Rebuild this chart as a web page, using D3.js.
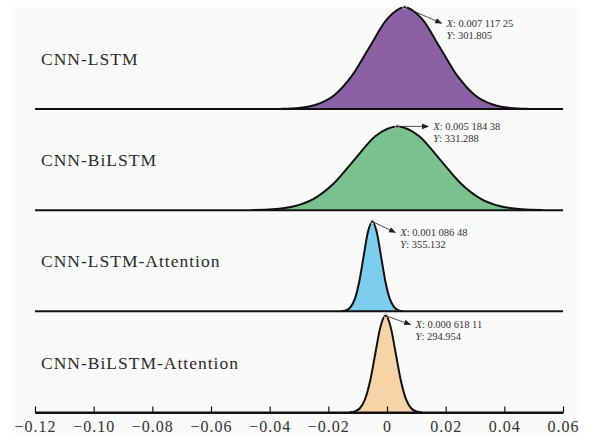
<!DOCTYPE html>
<meta charset="utf-8">
<style>

body {
  margin: 0;
  background: #fff;
}

.label {
  font-family: "Liberation Serif", "Times New Roman", serif;
  font-size: 17.5px;
  fill: #2a2a2a;
  letter-spacing: 1px;
}

.note {
  font-family: "Liberation Serif", "Times New Roman", serif;
  font-size: 10.5px;
  fill: #333;
}

.axis text {
  font-family: "Liberation Serif", "Times New Roman", serif;
  font-size: 16px;
  fill: #333;
  letter-spacing: 1px;
}

</style>
<svg width=594 height=443></svg>
<script src='https://cdn.jsdelivr.net/npm/d3@7/dist/d3.min.js'></script>
<script>

// ridge names, top to bottom
const models = ["CNN-LSTM", "CNN-BiLSTM", "CNN-LSTM-Attention", "CNN-BiLSTM-Attention"];
const colours = ["#8b61a6", "#79c28e", "#7dcdee", "#f9d3a8"];

// curve points (x, density)
const lstmX = [-0.036, -0.030, -0.024, -0.018, -0.012, -0.006, 0.000, 0.006, 0.012, 0.018, 0.024, 0.030, 0.036, 0.042, 0.048];
const lstmY = [0.7, 3.3, 13.2, 40.8, 98.0, 183.0, 266.3, 301.8, 266.3, 183.0, 98.0, 40.8, 13.2, 3.3, 0.7];

const bilstmX = [-0.046, -0.039, -0.032, -0.025, -0.018, -0.011, -0.004, 0.0035, 0.011, 0.018, 0.025, 0.032, 0.039, 0.046, 0.053];
const bilstmY = [0.7, 3.7, 14.5, 44.8, 107.6, 200.9, 292.4, 331.3, 292.4, 200.9, 107.6, 44.8, 14.5, 3.7, 0.7];

const lstmAttX = [-0.0155, -0.014, -0.0125, -0.011, -0.0095, -0.008, -0.0065, -0.005, -0.0035, -0.002, -0.0005, 0.001, 0.0025, 0.004, 0.0055];
const lstmAttY = [0.8, 3.9, 15.6, 48.0, 115.3, 215.4, 313.4, 355.1, 313.4, 215.4, 115.3, 48.0, 15.6, 3.9, 0.8];

const bilstmAttX = [-0.01275, -0.011, -0.00925, -0.0075, -0.00575, -0.004, -0.00225, -0.0005, 0.00125, 0.003, 0.00475, 0.0065, 0.00825, 0.010, 0.01175];
const bilstmAttY = [0.6, 3.3, 12.9, 39.9, 95.8, 178.9, 260.3, 295.0, 260.3, 178.9, 95.8, 39.9, 12.9, 3.3, 0.6];

const curvesX = [lstmX, bilstmX, lstmAttX, bilstmAttX];
const curvesY = [lstmY, bilstmY, lstmAttY, bilstmAttY];

// top of each ridge's own density scale
const ridgeMax = [300, 400, 400, 308];

// data tips
const tipX = ["0.007 117 25", "0.005 184 38", "0.001 086 48", "0.000 618 11"];
const tipY = ["301.805", "331.288", "355.132", "294.954"];

const xTicks = [-0.12, -0.10, -0.08, -0.06, -0.04, -0.02, 0, 0.02, 0.04, 0.06];
const xDomain = [-0.12, 0.06];

const svg = d3.select("svg");

svg.append("rect")
    .attr("x", 12).attr("y", 7)
    .attr("width", 567).attr("height", 428)
    .attr("fill", "#fafafa");

const x = d3.scaleLinear().domain(xDomain).range([35, 563]);
const base = d3.scalePoint().domain(models).range([109, 412.5]);
const bandH = base.step();

svg.append("defs").append("marker")
    .attr("id", "arrow")
    .attr("viewBox", "0 -5 10 10")
    .attr("refX", 9)
    .attr("refY", 0)
    .attr("markerWidth", 7)
    .attr("markerHeight", 7)
    .attr("markerUnits", "userSpaceOnUse")
    .attr("orient", "auto")
  .append("path")
    .attr("d", "M0,-4L10,0L0,4Z")
    .attr("fill", "#222");

// tip offsets: arrow end relative to peak
const tipArrow = [[37, 16], [31, 0], [23, 11], [25, 9]];

models.forEach((m, i) => {
  const b = base(m);
  const y = d3.scaleLinear().domain([0, ridgeMax[i]]).range([b, b - bandH]);
  const pts = curvesX[i].map((v, j) => [v, curvesY[i][j]]);

  const area = d3.area()
      .x(d => x(d[0]))
      .y0(b)
      .y1(d => y(d[1]))
      .curve(d3.curveMonotoneX);

  const line = d3.line()
      .x(d => x(d[0]))
      .y(d => y(d[1]))
      .curve(d3.curveMonotoneX);

  svg.append("path")
      .attr("d", area(pts))
      .attr("fill", colours[i]);

  svg.append("line")
      .attr("x1", x(xDomain[0])).attr("x2", x(xDomain[1]))
      .attr("y1", b).attr("y2", b)
      .attr("stroke", "#111")
      .attr("stroke-width", 2);

  svg.append("path")
      .attr("d", line(pts))
      .attr("fill", "none")
      .attr("stroke", "#111")
      .attr("stroke-width", 2);

  svg.append("text")
      .attr("class", "label")
      .attr("x", 41)
      .attr("y", b - 44)
      .text(m);

  // peak marker + data tip
  const k = d3.maxIndex(curvesY[i]);
  const px = x(curvesX[i][k]), py = y(curvesY[i][k]);
  const ax = px + tipArrow[i][0], ay = py + tipArrow[i][1];

  svg.append("circle")
      .attr("cx", px).attr("cy", py).attr("r", 2)
      .attr("fill", "none")
      .attr("stroke", "#ccc")
      .attr("stroke-width", 1);

  svg.append("line")
      .attr("x1", px).attr("y1", py)
      .attr("x2", ax).attr("y2", ay)
      .attr("stroke", "#222")
      .attr("stroke-width", 0.8)
      .attr("marker-end", "url(#arrow)");

  const t = svg.append("text")
      .attr("class", "note")
      .attr("x", ax + 5)
      .attr("y", ay + 3.5);
  t.append("tspan").attr("font-style", "italic").text("X");
  t.append("tspan").text(": " + tipX[i]);

  const t2 = svg.append("text")
      .attr("class", "note")
      .attr("x", ax + 5)
      .attr("y", ay + 15.5);
  t2.append("tspan").attr("font-style", "italic").text("Y");
  t2.append("tspan").text(": " + tipY[i]);
});

const fmt = d => d === 0 ? "0" : d3.format(".2f")(d);

const axis = svg.append("g")
    .attr("class", "axis")
    .attr("transform", "translate(0," + base(models[3]) + ")")
    .call(d3.axisBottom(x)
      .tickValues(xTicks)
      .tickFormat(fmt)
      .tickSizeInner(-6)
      .tickSizeOuter(0)
      .tickPadding(8));

axis.select(".domain").attr("stroke", "#111").attr("stroke-width", 2);
axis.selectAll(".tick line").attr("stroke", "#111").attr("stroke-width", 1.2);

</script>
